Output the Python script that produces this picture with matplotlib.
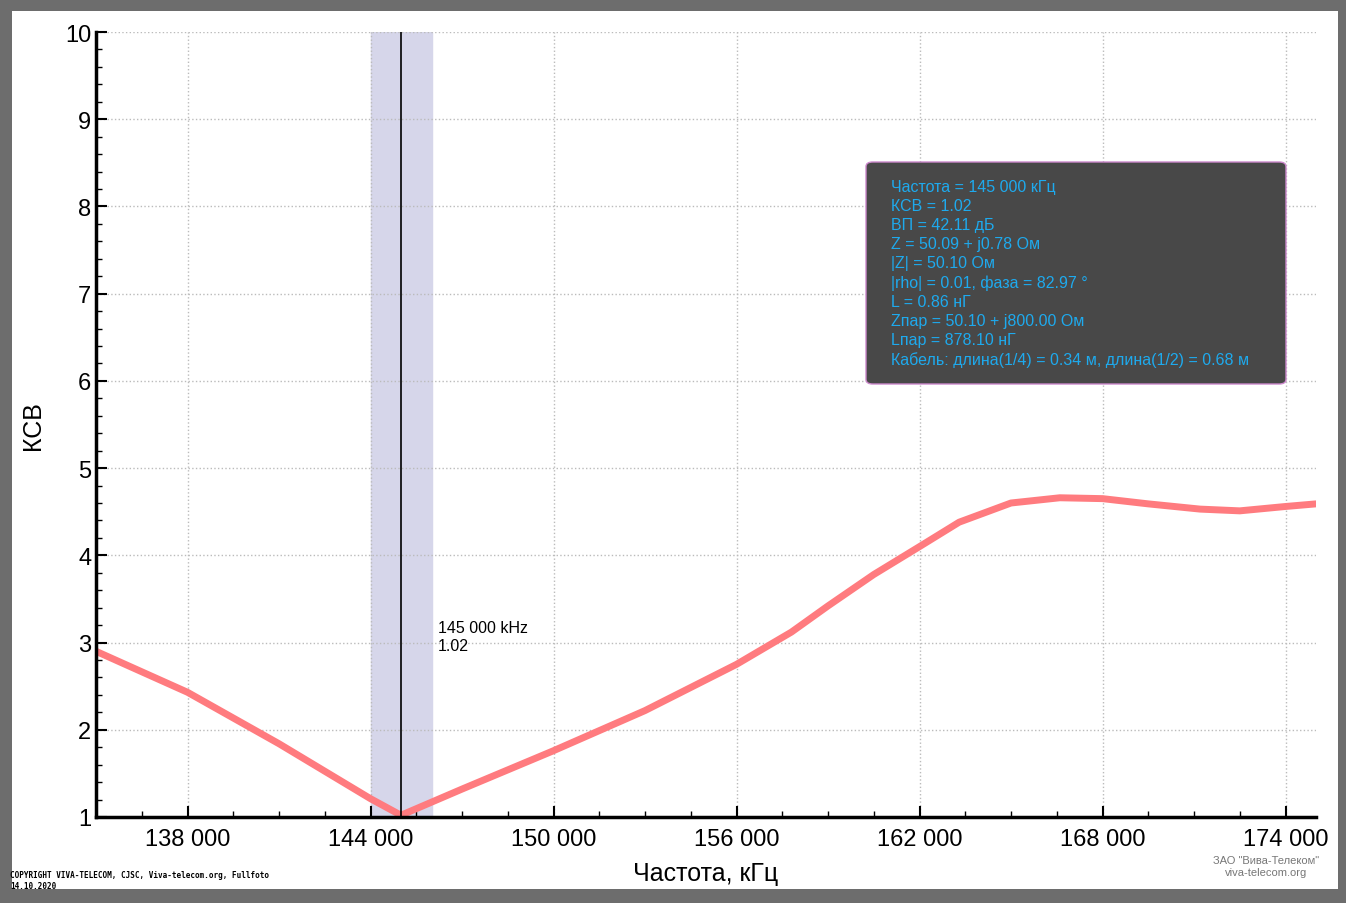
import matplotlib
matplotlib.use("Agg")
import matplotlib.pyplot as plt
from matplotlib.ticker import MultipleLocator, FuncFormatter
from matplotlib.patches import FancyBboxPatch

freq = [135000, 138000, 141000, 144000, 145000, 147000, 150000, 153000, 156000, 157800,
        159000, 160500, 162000, 163300, 165000, 166600, 168000, 169500, 171200, 172500, 174000, 175000]
swr = [2.90, 2.43, 1.84, 1.21, 1.02, 1.32, 1.76, 2.22, 2.75, 3.12,
       3.42, 3.78, 4.10, 4.38, 4.60, 4.66, 4.65, 4.59, 4.53, 4.51, 4.56, 4.59]
marker_f = 145000
marker_swr = 1.02
band = (144000, 146000)
info = ["Частота = 145 000 кГц", "КСВ = 1.02", "ВП = 42.11 дБ", "Z = 50.09 + j0.78 Ом",
        "|Z| = 50.10 Ом", "|rho| = 0.01, фаза = 82.97 °", "L = 0.86 нГ",
        "Zпар = 50.10 + j800.00 Ом", "Lпар = 878.10 нГ",
        "Кабель: длина(1/4) = 0.34 м, длина(1/2) = 0.68 м"]

plt.rcParams['font.family'] = ['Liberation Sans', 'DejaVu Sans']
fig = plt.figure(figsize=(13.46, 9.04), dpi=100, facecolor='#6d6d6d')
fig.patches.append(plt.Rectangle((12/1346, 14/904), 1326/1346, 878/904, transform=fig.transFigure,
                                 facecolor='white', edgecolor='none', zorder=-1))
ax = fig.add_axes([96/1346, 1-818/904, 1220/1346, 785/904])
ax.set_facecolor('none')
ax.set_xlim(135000, 175000)
ax.set_ylim(1, 10)
ax.axvspan(*band, color='#d6d6ea', zorder=1)
ax.axvline(marker_f, color='black', lw=1.2, zorder=3)
ax.plot(freq, swr, color='#ff7b7f', lw=5, zorder=2, solid_capstyle='round', solid_joinstyle='round')
ax.text(marker_f + 1200, 3.26, f"{marker_f:,} kHz".replace(",", " ") + f"\n{marker_swr:.2f}",
        fontsize=11.5, va='top', linespacing=1.3)
ax.xaxis.set_major_locator(MultipleLocator(6000))
ax.xaxis.set_minor_locator(MultipleLocator(1500))
ax.yaxis.set_major_locator(MultipleLocator(1))
ax.yaxis.set_minor_locator(MultipleLocator(0.2))
ax.xaxis.set_major_formatter(FuncFormatter(lambda v, p: f"{int(v):,}".replace(",", " ")))
ax.set_xticks([138000, 144000, 150000, 156000, 162000, 168000, 174000])
ax.tick_params(direction='in', length=8, width=1.5, labelsize=17)
ax.tick_params(axis='x', pad=8)
ax.tick_params(which='minor', direction='in', length=4, width=1)
ax.grid(True, which='major', color='#bbbbbb', ls=':', lw=1)
for s in ['top', 'right']:
    ax.spines[s].set_visible(False)
for s in ['left', 'bottom']:
    ax.spines[s].set_linewidth(2.5)
ax.set_xlabel("Частота, кГц", fontsize=18, labelpad=8)
ax.set_ylabel("КСВ", fontsize=18, labelpad=14)

box = FancyBboxPatch((866/1346, 1-385/904), 420/1346, 222/904, boxstyle="round,pad=0,rounding_size=0.005",
                     transform=fig.transFigure, facecolor='#484848', edgecolor='#cc88cc', lw=1, zorder=5)
fig.patches.append(box)
fig.text(891/1346, 1-180/904, "\n".join(info), color='#1eaaee', fontsize=11.5, va='top',
         linespacing=1.34, zorder=6)

fig.text(10/1346, 1-881/904, "COPYRIGHT VIVA-TELECOM, CJSC, Viva-telecom.org, Fullfoto\n14.10.2020",
         fontsize=5.5, family='DejaVu Sans Mono', va='center', weight='bold')
fig.text(1266/1346, 1-867/904, 'ЗАО "Вива-Телеком"\nviva-telecom.org', fontsize=8, color='#777777',
         ha='center', va='center')
fig.savefig("out.png", dpi=100, facecolor=fig.get_facecolor())
